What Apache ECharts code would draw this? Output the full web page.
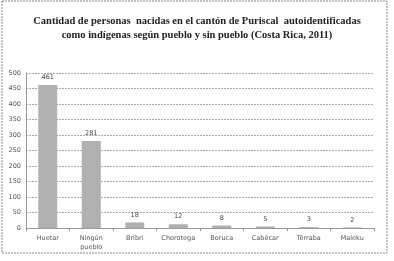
<!DOCTYPE html>
<html>
<head>
<meta charset="utf-8">
<script src="https://cdn.jsdelivr.net/npm/echarts@6/dist/echarts.min.js"></script>
<style>
  html, body { margin: 0; padding: 0; background: #fff; }
  #main { width: 394px; height: 261px; }
</style>
</head>
<body>
<div id="main"></div>
<script>
// datos
const pueblos = ['Huetar', 'Ningún\npueblo', 'Bribri', 'Chorotega', 'Boruca', 'Cabécar', 'Térraba', 'Maleku'];
const personas = [461, 281, 18, 12, 8, 5, 3, 2];

let myChart = echarts.init(document.getElementById('main'));

myChart.setOption({
  animation: false,
  backgroundColor: '#fff',
  title: {
    text: 'Cantidad de personas  nacidas en el cantón de Puriscal  autoidentificadas\ncomo indígenas según pueblo y sin pueblo (Costa Rica, 2011)',
    left: 'center',
    top: 9,
    textStyle: {
      fontFamily: 'Liberation Serif',
      fontSize: 10.5,
      fontWeight: 'bold',
      color: '#222',
      lineHeight: 14
    }
  },
  graphic: [{
    type: 'rect',
    shape: { x: 2, y: 1, width: 385, height: 252 },
    style: { fill: 'none', stroke: '#888', lineWidth: 1, lineDash: [2, 1] },
    silent: true
  }],
  grid: {
    left: 26,
    right: 20,
    top: 73,
    bottom: 33
  },
  xAxis: {
    type: 'category',
    data: pueblos,
    axisTick: { show: true, length: 3, lineStyle: { color: '#999' } },
    axisLine: { lineStyle: { color: '#999' } },
    axisLabel: {
      fontFamily: 'DejaVu Sans',
      fontSize: 6.5,
      color: '#555',
      margin: 6,
      lineHeight: 9,
      interval: 0
    }
  },
  yAxis: {
    type: 'value',
    min: 0,
    max: 500,
    interval: 50,
    axisLine: { show: true, lineStyle: { color: '#999' } },
    axisTick: { show: false },
    splitLine: { lineStyle: { color: '#aaa', type: [2, 1] } },
    axisLabel: {
      fontFamily: 'DejaVu Sans',
      fontSize: 6.5,
      color: '#555',
      margin: 5
    }
  },
  series: [{
    type: 'bar',
    data: personas,
    barWidth: 19,
    itemStyle: {
      color: '#b0b0b0'
    },
    label: {
      show: true,
      position: 'top',
      distance: 4,
      fontFamily: 'DejaVu Sans',
      fontSize: 6.5,
      color: '#444'
    }
  }]
}, true);
</script>
</body>
</html>
